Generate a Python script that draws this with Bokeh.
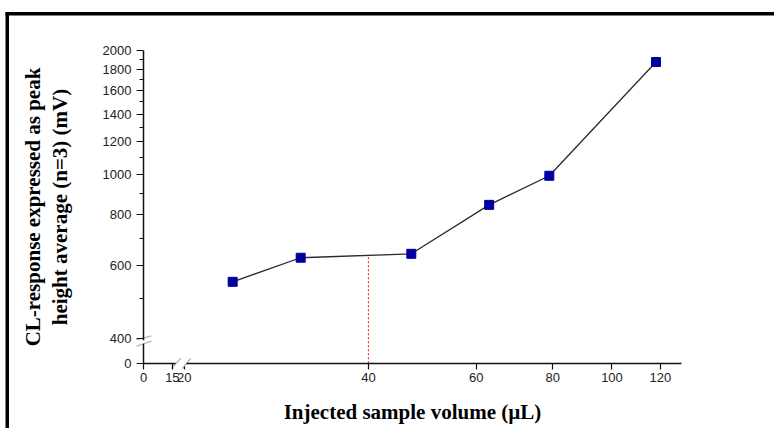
from bokeh.plotting import figure
from bokeh.models import FixedTicker, BasicTickFormatter, BoxAnnotation, PolyAnnotation, Range1d
from bokeh.embed import file_html
from bokeh.resources import INLINE

# ---- data ----
volume = [24, 31, 47, 63, 79, 118]          # injected sample volume (uL)
response = [549, 628, 642, 844, 993, 1876]  # CL response (mV)

# broken x axis: "0" and "15" sit just left of the break
x_tick_values = [17.16, 19.13, 20, 40, 60, 80, 100, 120]
x_tick_labels = ["0", "15", "20", "40", "60", "80", "100", "120"]

# broken y axis: "0" sits below the break
y_tick_values = [348, 400, 600, 800, 1000, 1200, 1400, 1600, 1800, 2000]
y_tick_labels = ["0", "400", "600", "800", "1000", "1200", "1400", "1600", "1800", "2000"]
y_minor_ticks = [500, 700, 900, 1100, 1300, 1500, 1700, 1900]

optimum_x = [40]
optimum_y0 = [348]
optimum_y1 = [637]

W, H = 774, 428
p = figure(width=W, height=H, x_axis_type="log", y_axis_type="log",
           x_range=Range1d(10.02, 184.3), y_range=Range1d(241.8, 2645),
           output_backend="svg", toolbar_location=None,
           min_border_left=0, min_border_right=0, min_border_top=0, min_border_bottom=0)

p.xgrid.visible = False
p.ygrid.visible = False
p.outline_line_color = None
p.background_fill_color = "white"
p.border_fill_color = "white"

# axes
for ax in (p.xaxis[0], p.yaxis[0]):
    ax.axis_line_color = "#111111"
    ax.axis_line_width = 1.5
    ax.major_tick_line_color = "#111111"
    ax.major_tick_line_width = 1.2
    ax.minor_tick_line_color = "#111111"
    ax.minor_tick_line_width = 1.2
    ax.major_tick_in = 0
    ax.minor_tick_in = 0
    ax.major_label_text_font = "Liberation Sans"
    ax.major_label_text_font_size = "13px"
    ax.major_label_text_color = "#222222"
    ax.axis_label_text_font = "Liberation Serif"
    ax.axis_label_text_font_style = "bold"
    ax.axis_label_text_font_size = "21px"
    ax.axis_label_text_color = "#000000"
    ax.formatter = BasicTickFormatter()

p.xaxis.fixed_location = y_tick_values[0]
p.xaxis.bounds = (17.15, 130)
p.xaxis.ticker = FixedTicker(ticks=x_tick_values, minor_ticks=[])
p.xaxis.major_label_overrides = dict(zip(x_tick_values, x_tick_labels))
p.xaxis.major_tick_out = 6
p.xaxis.major_label_standoff = 4
p.xaxis.axis_label = "Injected sample volume (\u00b5L)"
p.xaxis.axis_label_standoff = 14

p.yaxis.fixed_location = x_tick_values[0]
p.yaxis.bounds = (347.8, 2000.5)
p.yaxis.ticker = FixedTicker(ticks=y_tick_values, minor_ticks=y_minor_ticks)
p.yaxis.major_label_overrides = dict(zip(y_tick_values, y_tick_labels))
p.yaxis.major_tick_out = 7
p.yaxis.minor_tick_out = 4
p.yaxis.major_label_standoff = 5
p.yaxis.axis_label = "CL-response expressed as peak\nheight average (n=3) (mV)"
p.yaxis.axis_label_standoff = 28
p.yaxis.axis_label_text_line_height = 1.1

# data
p.segment(x0=optimum_x, y0=optimum_y0, x1=optimum_x, y1=optimum_y1,
          line_color="#ff2a2a", line_width=1.2, line_dash="2 2")
p.line(volume, response, line_color="#2b2b2b", line_width=1.3)
p.scatter(volume, response, marker="square", size=9,
          fill_color="#0000a0", line_color="#0000a0")

def box(l, r, t, b, color):
    p.add_layout(BoxAnnotation(left=l, right=r, top=t, bottom=b,
                               left_units="canvas", right_units="canvas",
                               top_units="canvas", bottom_units="canvas",
                               fill_color=color, fill_alpha=1, line_alpha=0))

def slash(xs, ys):
    p.add_layout(PolyAnnotation(xs=xs, ys=ys, xs_units="canvas", ys_units="canvas",
                                fill_alpha=0, line_color="#111111", line_width=1.3))

# page border (left and top)
box(5, 8.5, 12, H, "black")
box(5, W, 11.5, 15, "black")

# axis breaks: white gaps then slashes
box(140, 146.5, 339.8, 343.2, "white")
box(175, 186, 360, 366, "white")
slash([136, 151], [339.3, 335.3])
slash([136, 151], [345.7, 340.7])
slash([171, 180], [368, 358])
slash([182, 190], [368, 358])

open("out.html", "w").write(file_html(p, INLINE))
